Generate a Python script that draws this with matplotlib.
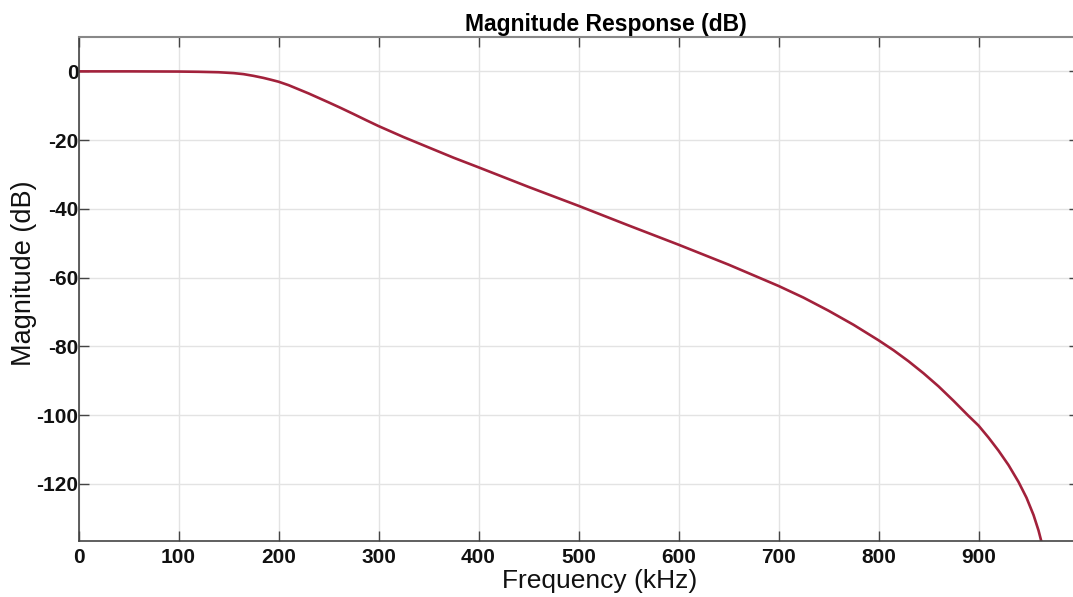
import matplotlib
matplotlib.use('Agg')

import matplotlib.pyplot as plt

# values
freq_khz = [0, 50, 100, 120, 140, 155, 165, 175, 185, 192, 200, 210, 220,
            230, 240, 250, 262, 275, 287, 300, 325, 350, 375, 400, 450, 500,
            550, 600, 650, 700, 725, 750, 775, 800, 815, 830, 845, 860, 875,
            890, 900, 910, 920, 930, 940, 948, 955, 960, 964]
mag_db = [0.0, 0.0, -0.05, -0.12, -0.25, -0.5, -0.8, -1.3, -1.9, -2.4, -3.0,
          -4.0, -5.2, -6.4, -7.7, -9.0, -10.6, -12.4, -14.1, -15.9, -19.1,
          -22.1, -25.1, -27.9, -33.6, -39.1, -44.8, -50.4, -56.2, -62.4,
          -65.8, -69.6, -73.7, -78.2, -81.1, -84.3, -87.8, -91.6, -95.8,
          -100.2, -103.0, -106.5, -110.3, -114.5, -119.4, -124.0, -129.0,
          -133.5, -138.0]
xticks = [0, 100, 200, 300, 400, 500, 600, 700, 800, 900]
yticks = [0, -20, -40, -60, -80, -100, -120]

plt.rcParams['font.family'] = ['Liberation Sans', 'DejaVu Sans']
plt.rcParams['axes.unicode_minus'] = False

W, H = 1073, 597
fig = plt.figure(figsize=(W / 100, H / 100), dpi=100)
ax = fig.add_axes([78.5 / W, (H - 540.7) / H, 1000 / W, 503.7 / H])

ax.plot(freq_khz, mag_db, color='#a2213b', lw=1.9, solid_joinstyle='round')

ax.set_xlim(0, 1000)
ax.set_ylim(-136.5, 10)
ax.set_xticks(xticks)
ax.set_yticks(yticks)
ax.set_xticklabels([str(t) for t in xticks], fontweight='bold', fontsize=15)
ax.set_yticklabels([str(t) for t in yticks], fontweight='bold', fontsize=15)

ax.grid(True, color='#e3e3e3', lw=1)
ax.set_axisbelow(True)
ax.tick_params(direction='in', length=7, width=1, color='#444444',
               top=True, right=True, labelcolor='#111111')
ax.tick_params(axis='x', pad=5)
ax.tick_params(axis='y', pad=0)

for side in ['left', 'bottom']:
    ax.spines[side].set_color('#444444')
    ax.spines[side].set_linewidth(1.2)
ax.spines['top'].set_color('#888888')
ax.spines['top'].set_linewidth(1.5)
ax.spines['right'].set_color('#888888')

fig.text(606 / W, (H - 31) / H, 'Magnitude Response (dB)', ha='center',
         va='baseline', fontsize=16.5, fontweight='bold')
fig.text(600 / W, (H - 581) / H, 'Frequency (kHz)', ha='center',
         va='center', fontsize=19, color='#111111')
fig.text(24 / W, (H - 273) / H, 'Magnitude (dB)', ha='center',
         va='center', rotation=90, fontsize=19.5, color='#111111')

plt.savefig('out.png', dpi=100)
